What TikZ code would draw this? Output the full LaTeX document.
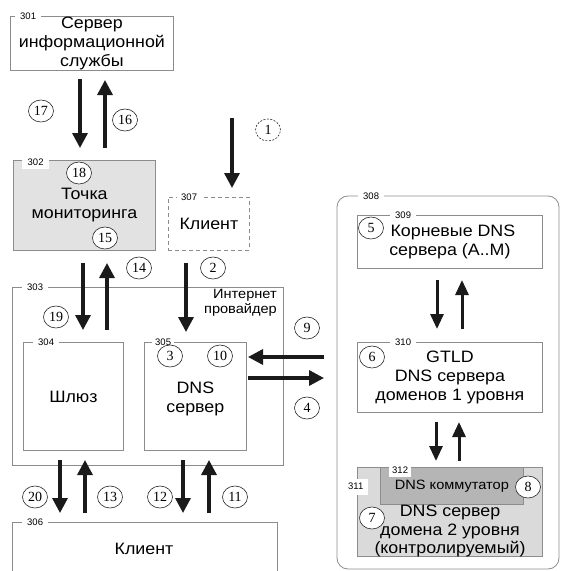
\documentclass[tikz,border=0pt]{standalone}
\usepackage{fontspec}
\setmainfont{Liberation Sans}[FakeStretch=1.08]
\newfontfamily\numfont{Liberation Serif}
\newfontfamily\labfont{Liberation Sans}
\usetikzlibrary{arrows.meta,shapes.geometric}
\definecolor{boxline}{HTML}{8C8C8C}
\definecolor{monfill}{HTML}{E2E2E2}
\definecolor{dom2fill}{HTML}{DADADA}
\definecolor{swfill}{HTML}{B5B5B5}
\definecolor{arrcol}{HTML}{1A1A1A}
\tikzset{
  box/.style={draw=boxline, line width=0.8pt, anchor=north west, inner sep=0pt, align=center,
    font=\fontsize{16.5}{18.8}\selectfont},
  lab/.style={fill=white, inner xsep=5pt, inner ysep=1pt, anchor=west,
    font=\labfont\fontsize{9.5}{9.5}\selectfont},
  num/.style={ellipse, draw=black!85, line width=0.6pt, fill=white, minimum width=25pt,
    minimum height=22pt, inner sep=0pt, font=\numfont\fontsize{14}{14}\selectfont},
  bigarr/.style={draw=arrcol, line width=3.3pt, -{Triangle[length=15pt,width=15pt]}},
  smallarr/.style={draw=arrcol, line width=3pt, -{Triangle[length=15pt,width=13pt]}},
  txt/.style={font=\fontsize{16.5}{18.8}\selectfont, align=center, inner sep=0pt}
}
\begin{document}
\begin{tikzpicture}[x=1pt,y=-1pt]
\useasboundingbox (0,0) rectangle (561,571);
\clip (0,0) rectangle (561,571);

% ---------- boxes ----------
\node[box, minimum width=163pt, minimum height=54pt] (b301) at (10,16) {Сервер\\информационной\\службы};
\node[box, fill=monfill, minimum width=142pt, minimum height=90pt] (b302) at (13,160) {Точка\\мониторинга};
\node[box, dashed, dash pattern=on 4pt off 3pt, minimum width=81pt, minimum height=53pt] (b307) at (168,197) {Клиент};
\node[box, minimum width=271pt, minimum height=178pt] (b303) at (12,287) {};
\node[box, minimum width=100pt, minimum height=108pt] (b304) at (23,342) {Шлюз};
\node[box, minimum width=102pt, minimum height=108pt] (b305) at (144,342) {\\[-2pt]DNS\\сервер};
\node[box, minimum width=265pt, minimum height=70pt] (b306) at (12,522) {};
\draw[draw=boxline, line width=0.8pt, rounded corners=11pt] (337,196) rectangle (559,569);
\coordinate (b308) at (337,196);
\node[box, minimum width=185pt, minimum height=53pt] (b309) at (357,215) {\hspace*{6pt}Корневые DNS\\сервера (А..М)};
\node[box, minimum width=185pt, minimum height=70pt] (b310) at (357,342) {GTLD\\DNS сервера\\доменов 1 уровня};
\node[box, fill=dom2fill, minimum width=185pt, minimum height=89pt] (b311) at (357,467) {};
\node[box, fill=swfill, draw=boxline, minimum width=143pt, minimum height=37pt,
  font=\fontsize{13.5}{15}\selectfont] (b312) at (380,467) {DNS коммутатор};

% ---------- free texts ----------
\node[txt, font=\fontsize{13.5}{15.5}\selectfont, align=right, anchor=north east] (t303) at (277,289) {Интернет\\провайдер};
\node[txt] (t306) at (144,549) {Клиент};
\node[txt] (t311) at (450,531) {DNS сервер\\домена 2 уровня\\(контролируемый)};

% ---------- labels ----------
\node[lab] (l301) at (15,16) {301};
\node[lab, minimum height=13pt, inner xsep=5.5pt] (l302) at (22,162.5) {302};
\node[lab] (l303) at (22,287) {303};
\node[lab] (l304) at (33,342) {304};
\node[lab, inner xsep=3pt] (l305) at (152,342) {305};
\node[lab] (l306) at (22,522) {306};
\node[lab, inner xsep=4pt] (l307) at (177,197) {307};
\node[lab] (l308) at (358,196) {308};
\node[lab] (l309) at (390,215) {309};
\node[lab] (l310) at (390,342) {310};
\node[lab, minimum height=16pt, inner xsep=5pt] (l311) at (343,486.5) {311};
\node[lab, minimum height=13pt, inner xsep=3pt] (l312) at (389,470) {312};

% ---------- numbered circles ----------
\node[num, dashed, dash pattern=on 2pt off 1.5pt] (n1) at (268,130) {1};
\node[num] (n2) at (213,268) {2};
\node[num] (n3) at (170,356) {3};
\node[num] (n4) at (307,408) {4};
\node[num] (n5) at (371,228) {5};
\node[num] (n6) at (372,357) {6};
\node[num] (n7) at (372,518) {7};
\node[num] (n8) at (528,487) {8};
\node[num] (n9) at (307,328) {9};
\node[num] (n10) at (220,356) {10};
\node[num] (n11) at (235,497) {11};
\node[num] (n12) at (160,497) {12};
\node[num] (n13) at (110,497) {13};
\node[num] (n14) at (139,268) {14};
\node[num] (n15) at (105,238) {15};
\node[num] (n16) at (125,120) {16};
\node[num] (n17) at (41,111) {17};
\node[num] (n18) at (79,173) {18};
\node[num] (n19) at (56,317) {19};
\node[num] (n20) at (35,497) {20};

% ---------- arrow end points ----------
\coordinate (a17s) at (80,79);   \coordinate (a17e) at (80,148);
\coordinate (a16s) at (105,148); \coordinate (a16e) at (105,80);
\coordinate (a1s) at (232,118);  \coordinate (a1e) at (232,188);
\coordinate (a2s) at (186,263);  \coordinate (a2e) at (186,332);
\coordinate (a19s) at (83,263);  \coordinate (a19e) at (83,330);
\coordinate (a14s) at (107,330); \coordinate (a14e) at (107,263);
\coordinate (a9s) at (324,357);  \coordinate (a9e) at (248,357);
\coordinate (a4s) at (248,378);  \coordinate (a4e) at (324,378);
\coordinate (r1s) at (437,280);  \coordinate (r1e) at (437,329);
\coordinate (r2s) at (462,329);  \coordinate (r2e) at (462,280);
\coordinate (g1s) at (436,422);  \coordinate (g1e) at (436,461);
\coordinate (g2s) at (459,461);  \coordinate (g2e) at (459,422);
\coordinate (c20s) at (60,460);  \coordinate (c20e) at (60,513);
\coordinate (c13s) at (85,513);  \coordinate (c13e) at (85,460);
\coordinate (c12s) at (183,460); \coordinate (c12e) at (183,513);
\coordinate (c11s) at (209,513); \coordinate (c11e) at (209,460);

% ---------- arrows ----------
\draw[bigarr] (a17s) -- (a17e);
\draw[bigarr] (a16s) -- (a16e);
\draw[bigarr] (a1s) -- (a1e);
\draw[bigarr] (a2s) -- (a2e);
\draw[bigarr] (a19s) -- (a19e);
\draw[bigarr] (a14s) -- (a14e);
\draw[bigarr] (a9s) -- (a9e);
\draw[bigarr] (a4s) -- (a4e);
\draw[smallarr] (r1s) -- (r1e);
\draw[smallarr] (r2s) -- (r2e);
\draw[smallarr] (g1s) -- (g1e);
\draw[smallarr] (g2s) -- (g2e);
\draw[bigarr] (c20s) -- (c20e);
\draw[bigarr] (c13s) -- (c13e);
\draw[bigarr] (c12s) -- (c12e);
\draw[bigarr] (c11s) -- (c11e);
\end{tikzpicture}
\end{document}
